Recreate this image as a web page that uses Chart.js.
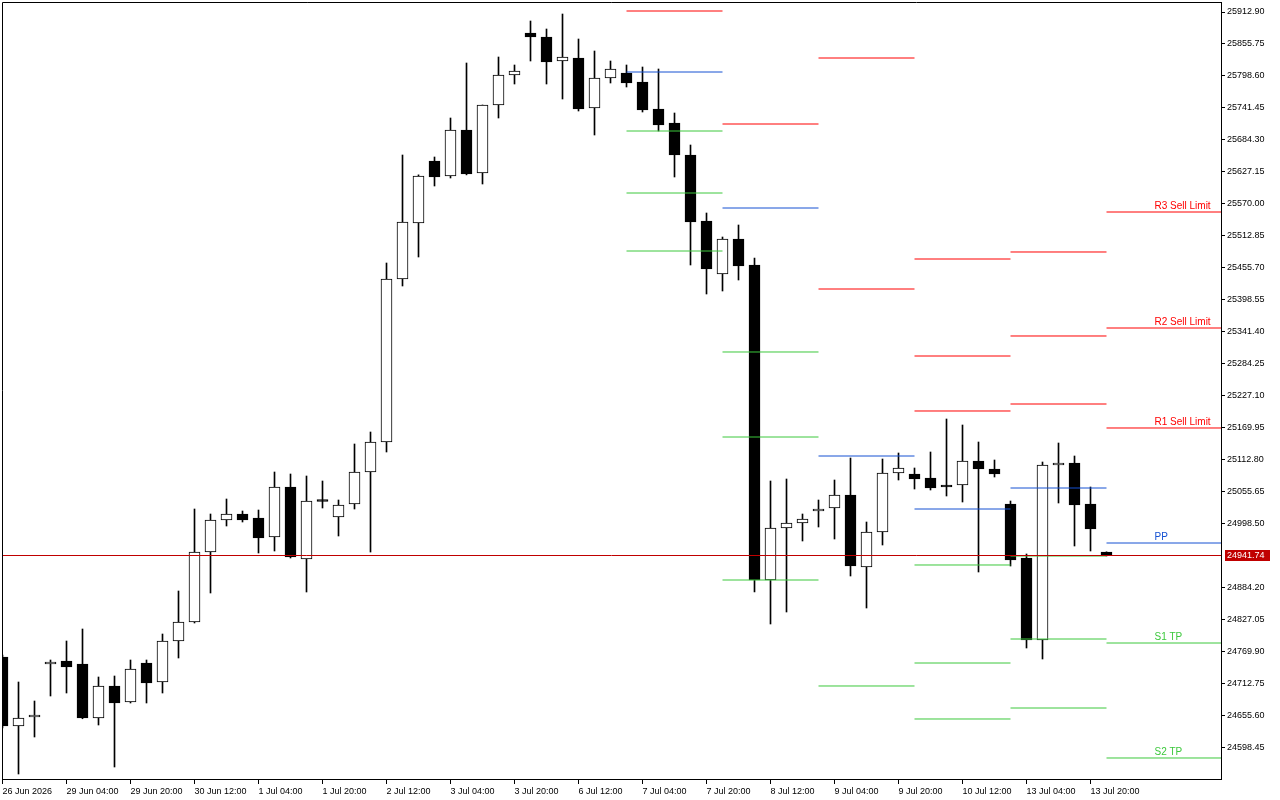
<!DOCTYPE html>
<html>
<head>
<meta charset="utf-8">
<script src="https://cdn.jsdelivr.net/npm/chart.js@4/dist/chart.umd.min.js"></script>
<style>
  html, body { margin: 0; padding: 0; background: #fff; }
  canvas { display: block; }
</style>
</head>
<body>
<canvas id="chart" width="1280" height="800"></canvas>
<script>
// US Tech 100, H4 - 4h candles, one label every 4 candles
var timeLabels = ['26 Jun 2026', '29 Jun 04:00', '29 Jun 20:00', '30 Jun 12:00', '1 Jul 04:00', '1 Jul 20:00',
    '2 Jul 12:00', '3 Jul 04:00', '3 Jul 20:00', '6 Jul 12:00', '7 Jul 04:00', '7 Jul 20:00', '8 Jul 12:00',
    '9 Jul 04:00', '9 Jul 20:00', '10 Jul 12:00', '13 Jul 04:00', '13 Jul 20:00'];
var candlesPerLabel = 4;

var opens = [24759.90, 24636.55, 24652.64, 24747.38, 24752.75, 24747.38, 24650.85, 24708.06, 24679.46, 24749.17,
    24715.21, 24788.50, 24822.46, 24947.54, 25004.80, 25015.52, 25008.37, 24974.41, 25063.79, 24935.08,
    25040.55, 25010.16, 25033.40, 25090.60, 25144.23, 25435.61, 25535.72, 25646.55, 25619.73, 25701.96,
    25625.10, 25746.65, 25800.28, 25875.36, 25868.21, 25825.31, 25830.67, 25741.29, 25794.92, 25803.86,
    25787.77, 25739.50, 25714.48, 25657.27, 25539.29, 25444.55, 25507.11, 25460.64, 24897.54, 24990.50,
    24999.44, 25020.89, 25026.25, 25049.49, 24920.78, 24983.35, 25088.82, 25087.03, 25079.88, 25067.36,
    25067.36, 25110.27, 25095.97, 25033.40, 24936.87, 24790.29, 25103.12, 25106.69, 25033.40, 24947.54];
var highs = [24763.47, 24715.21, 24681.24, 24754.53, 24788.50, 24809.95, 24724.15, 24725.93, 24754.53, 24754.53,
    24801.01, 24877.88, 25024.46, 25015.52, 25042.34, 25020.89, 25022.67, 25090.60, 25087.03, 25083.45,
    25074.51, 25040.55, 25140.66, 25162.11, 25464.21, 25657.27, 25621.77, 25653.70, 25723.41, 25821.73,
    25746.65, 25832.46, 25818.16, 25896.81, 25882.51, 25909.32, 25864.63, 25843.18, 25825.31, 25818.16,
    25814.58, 25811.01, 25732.35, 25675.15, 25553.59, 25510.69, 25532.14, 25473.15, 25074.51, 25078.09,
    25015.52, 25040.55, 25076.30, 25115.63, 25001.22, 25113.84, 25124.57, 25097.75, 25126.36, 25185.35,
    25174.62, 25144.23, 25112.05, 25038.76, 24944.02, 25108.48, 25142.44, 25119.20, 25063.79, 24947.90];
var lows = [24632.98, 24550.75, 24616.89, 24690.18, 24695.54, 24649.50, 24638.34, 24563.26, 24677.67, 24677.67,
    24695.54, 24758.11, 24820.68, 24874.30, 24994.07, 25001.22, 24945.81, 24949.38, 24936.87, 24876.09,
    25026.25, 24976.20, 25024.46, 24947.54, 25126.36, 25423.10, 25474.94, 25601.86, 25616.16, 25621.77,
    25605.43, 25723.41, 25784.19, 25825.31, 25784.19, 25757.38, 25735.93, 25693.02, 25785.98, 25778.83,
    25734.14, 25700.17, 25617.95, 25460.64, 25408.80, 25414.16, 25433.82, 24876.09, 24818.89, 24840.34,
    24967.26, 24992.29, 24970.83, 24904.69, 24847.49, 24960.11, 25076.30, 25060.21, 25058.43, 25047.70,
    25036.97, 24911.84, 25081.66, 24922.57, 24775.99, 24756.32, 25035.19, 24958.32, 24949.38, 24940.44];
var closes = [24636.55, 24650.85, 24656.22, 24748.30, 24742.02, 24650.85, 24708.06, 24677.67, 24738.45, 24713.42,
    24788.50, 24822.46, 24947.54, 25004.80, 25015.52, 25004.80, 24972.62, 25063.79, 24938.66, 25038.76,
    25037.90, 25031.61, 25090.60, 25144.23, 25435.61, 25537.50, 25619.73, 25617.95, 25701.96, 25623.31,
    25746.65, 25800.28, 25807.43, 25868.21, 25823.52, 25832.46, 25739.50, 25794.92, 25811.01, 25785.98,
    25737.71, 25710.90, 25657.27, 25537.50, 25453.49, 25507.11, 25458.85, 24897.54, 24990.50, 24999.44,
    25006.59, 25024.46, 25049.49, 24922.57, 24983.35, 25088.82, 25097.75, 25078.09, 25062.00, 25063.79,
    25110.27, 25095.97, 25087.03, 24933.29, 24790.29, 25103.12, 25106.69, 25031.61, 24988.71, 24941.74];

var yTicks = [25912.90, 25855.75, 25798.60, 25741.45, 25684.30, 25627.15, 25570.00, 25512.85, 25455.70,
    25398.55, 25341.40, 25284.25, 25227.10, 25169.95, 25112.80, 25055.65, 24998.50, 24884.20, 24827.05,
    24769.90, 24712.75, 24655.60, 24598.45];

// daily pivot levels (candle index where each day starts), null = off the chart
var dayStart = [39, 45, 51, 57, 63, 69];
var pivR3 = [null, null, null, 25471.36, 25483.88, 25555.38];
var pivR2 = [null, null, 25830.67, 25297.96, 25333.72, 25348.02];
var pivR1 = [25914.69, 25712.69, 25417.73, 25199.65, 25212.16, 25169.26];
var pivPP = [25805.64, 25562.53, 25119.20, 25024.46, 25062.00, 24963.68];
var pivS1 = [25700.17, 25305.12, 24708.06, 24924.36, 24940.44, 24784.92];
var pivS2 = [25589.34, 25153.17, null, 24749.17, 24792.07, 24579.35];
var pivS3 = [25485.66, 24897.54, null, 24649.07, 24668.73, null];
var levelNames = ['R3 Sell Limit', 'R2 Sell Limit', 'R1 Sell Limit', 'PP', 'S1 TP', 'S2 TP', 'S3 TP'];

var RED = '#ff0000', BLUE = '#1450d2', GREEN = '#3cc83c';
var FONT = 'Liberation Sans';
var X_MIN = -0.03125, X_MAX = 76.156;   // 16 px per candle
var Y_MIN = 24541.81, Y_MAX = 25930.78;

var levels = [pivR3, pivR2, pivR1, pivPP, pivS1, pivS2, pivS3];
var levelColors = [RED, RED, RED, BLUE, GREEN, GREEN, GREEN];

function segments(arr) {
    var pts = [];
    arr.forEach(function (v, d) {
        if (v === null) return;
        var x1 = d + 1 < dayStart.length ? dayStart[d + 1] : X_MAX;
        pts.push({ x: dayStart[d], y: v }, { x: x1, y: v }, { x: x1, y: null });
    });
    return pts;
}

var wickData = [], bodyData = [], bodyColors = [];
for (var i = 0; i < opens.length; i++) {
    wickData.push({ x: i, y: [lows[i], highs[i]] });
    bodyData.push({ x: i, y: [opens[i], closes[i]] });
    bodyColors.push(closes[i] >= opens[i] ? '#ffffff' : '#000000');
}

var datasets = [
    { type: 'bar', data: bodyData, backgroundColor: bodyColors, borderColor: '#000', borderWidth: 1,
      borderSkipped: false, barThickness: 11, minBarLength: 2, grouped: false, order: 1, clip: 0 },
    { type: 'bar', data: wickData, backgroundColor: '#000', borderWidth: 0,
      barThickness: 1, grouped: false, order: 2, clip: 0 }
];
levels.forEach(function (arr, k) {
    datasets.push({ type: 'line', data: segments(arr), borderColor: levelColors[k], borderWidth: 1,
        pointRadius: 0, tension: 0, spanGaps: false, order: 0, clip: 0 });
});

// frame, bid line, price box and level captions
var mtPlugin = {
    id: 'mtExtras',
    afterDatasetsDraw: function (chart) {
        var ctx = chart.ctx, a = chart.chartArea, xs = chart.scales.x, ys = chart.scales.y;
        var last = closes[closes.length - 1];
        var py = Math.round(ys.getPixelForValue(last)) + 0.5;
        ctx.save();
        ctx.strokeStyle = '#c00000';
        ctx.lineWidth = 1;
        ctx.beginPath();
        ctx.moveTo(a.left, py);
        ctx.lineTo(a.right, py);
        ctx.stroke();

        // captions on the current day's levels
        var d = dayStart.length - 1;
        var tx = xs.getPixelForValue(dayStart[d] + 3);
        ctx.font = '10px "' + FONT + '"';
        ctx.textAlign = 'left';
        ctx.textBaseline = 'alphabetic';
        levels.forEach(function (arr, k) {
            var v = arr[d];
            if (v === null || v < Y_MIN || v > Y_MAX) return;
            ctx.fillStyle = levelColors[k];
            ctx.fillText(levelNames[k], tx, Math.round(ys.getPixelForValue(v)) - 3);
        });
        ctx.restore();
    },
    afterDraw: function (chart) {
        var ctx = chart.ctx, a = chart.chartArea, ys = chart.scales.y;
        ctx.save();
        ctx.strokeStyle = '#000';
        ctx.lineWidth = 1;
        ctx.beginPath();
        ctx.moveTo(a.left + 0.5, a.bottom);
        ctx.lineTo(a.left + 0.5, a.top + 0.5);
        ctx.lineTo(a.right, a.top + 0.5);
        ctx.stroke();

        var last = closes[closes.length - 1];
        var py = Math.round(ys.getPixelForValue(last));
        ctx.fillStyle = '#c00000';
        ctx.fillRect(a.right + 4, py - 5, 45, 11);
        ctx.fillStyle = '#fff';
        ctx.font = '9px "' + FONT + '"';
        ctx.textAlign = 'left';
        ctx.textBaseline = 'middle';
        ctx.fillText(last.toFixed(2), a.right + 6, py + 0.5);
        ctx.restore();
    }
};

new Chart(document.getElementById('chart').getContext('2d'), {
    type: 'bar',
    data: { datasets: datasets },
    options: {
        responsive: false, animation: false, events: [],
        layout: { padding: { left: 2, top: 2, right: 0, bottom: 0 } },
        plugins: { legend: { display: false }, tooltip: { enabled: false } },
        scales: {
            x: {
                type: 'linear', min: X_MIN, max: X_MAX, offset: false,
                grid: { drawOnChartArea: false, drawTicks: true, tickLength: 5, color: '#000', offset: false },
                border: { display: true, color: '#000', width: 1 },
                afterBuildTicks: function (s) {
                    s.ticks = timeLabels.map(function (t, k) { return { value: k * candlesPerLabel }; });
                },
                afterFit: function (s) { s.height = 21; s.paddingLeft = 0; s.paddingRight = 0; },
                ticks: {
                    align: 'start', padding: 2, maxRotation: 0, autoSkip: false, color: '#000',
                    font: { family: FONT, size: 9 },
                    callback: function (v, k) { return timeLabels[k]; }
                }
            },
            y: {
                position: 'right', min: Y_MIN, max: Y_MAX,
                grid: { drawOnChartArea: false, drawTicks: true, tickLength: 4, color: '#000' },
                border: { display: true, color: '#000', width: 1 },
                afterBuildTicks: function (s) {
                    s.ticks = yTicks.map(function (v) { return { value: v }; });
                },
                afterFit: function (s) { s.width = 59; s.paddingTop = 0; s.paddingBottom = 0; },
                ticks: {
                    padding: 2, autoSkip: false, color: '#000',
                    font: { family: FONT, size: 9 },
                    callback: function (v) { return v.toFixed(2); }
                }
            }
        }
    },
    plugins: [mtPlugin]
});
</script>
</body>
</html>
